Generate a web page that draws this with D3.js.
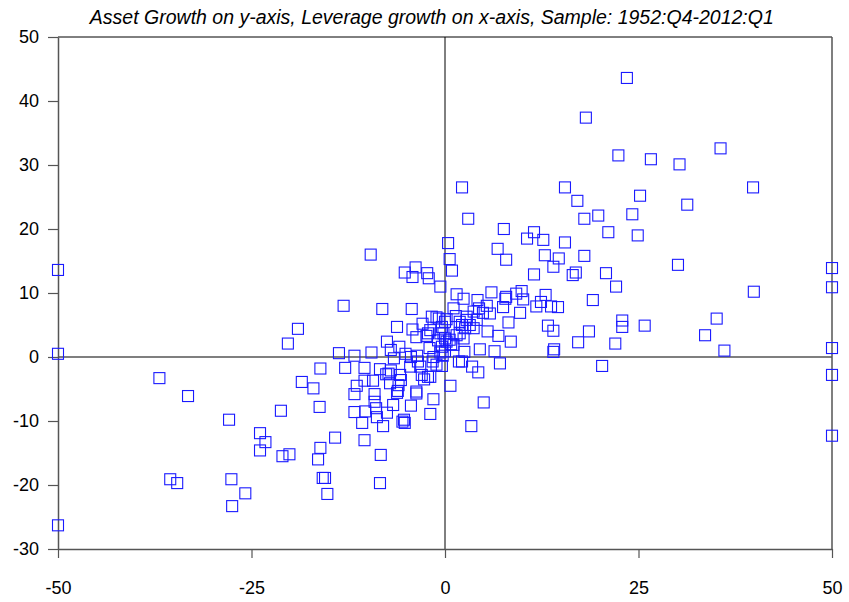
<!DOCTYPE html>
<meta charset="utf-8">
<script src="https://d3js.org/d3.v7.min.js"></script>
<style>
  body { margin: 0; background: #fff; }
  text { font-family: "Liberation Sans", Arial, sans-serif; }
</style>
<div id="chart"></div>
<script>

// chart text and ticks
var title = "Asset Growth on y-axis, Leverage growth on x-axis, Sample: 1952:Q4-2012:Q1";
var xTicks = [-50, -25, 0, 25, 50];
var yTicks = [-30, -20, -10, 0, 10, 20, 30, 40, 50];

// leverage growth (x) and asset growth (y)
var leverageGrowth = [
  -50, -50, -50, 50, 50, 50, 50, 50,
  -36.9, -33.2, -27.9, -19.0, -20.3, -18.5, -17.0, -21.2, -23.9, -23.2, -23.9, -21.0,
  -20.1, -35.5, -34.6, -27.6, -25.8, -27.5, -13.7, -16.1, -16.2, -16.1, -16.4, -14.2,
  -15.8, -15.5, -15.2,
  0.4, -9.6, 0.6, 0.9, -5.2, -3.8, -4.2, -2.3, -2.1, -0.6, 6.8, 1.5, 2.4, 6.0, 4.2,
  -13.1, -8.1, -4.3, -6.2, -4.2, -2.9, -1.7, -1.1, -2.2, -3.7, -0.6, -7.5, -5.9, -7.0,
  -11.7, -9.5, -6.6, -5.1, -4.4, -3.6, -2.0, -1.5, -0.4, -0.6, -0.3, 0.2, 0.8, 1.5,
  2.5, 4.5, 6.4, 1.8, 3.5, 4.3, 7.1, 5.0, 0.7, -1.5, -0.4,
  -12.9, -10.4, -8.4, -7.0, -5.8, -4.5, -3.5, -3.0, -2.7, -2.2, -1.6, -11.4, -10.4,
  -9.3, -7.6, -7.1, -6.0, -6.2, -3.7, -11.7, -9.1, -8.9, -6.7, -4.4, -1.9, -11.7,
  -10.3, -8.8, -7.5, -5.3, -9.1, -10.7, -8.0, -5.5, -5.2, -10.4, -8.3, -8.4, -7.3,
  -5.7, -6.1, -3.7, -1.9, -3.2, -1.1, -2.4, -1.9, -0.8, 0.0, -0.9,
  7.9, 12.9, 14.0, 11.5, 7.8, 9.2, 10.1, 9.9, 13.0, 12.4, 13.7, 14.6, 1.1, 0.2, 1.4,
  2.8, 3.7, 4.4, 5.4, 5.8, 4.9, 7.5, 9.7, 8.2, 5.5, 6.9, 8.5, 13.3, 14.0, 1.9, 2.2,
  2.6, 3.2, 3.7, 1.9, 0.6, 2.4, 0.0, -0.4, -0.2, 0.0, 1.1, 2.8, 4.1, 14.0, 2.2, 3.4,
  11.8, 7.9,
  2.2, 15.5, 17.1, 3.0, 18.0, 7.6, 10.6, 11.5, 12.7, 15.5, 14.7, 18.0, 22.4, 19.8,
  21.1, 16.9, 16.5, 20.8, 22.1, 19.1, 18.6, 17.2, 22.0, 22.9, 22.9, 14.1,
  23.5, 18.2, 35.6, 26.6, 30.3, 39.8, 25.2, 31.3, 24.2, 24.9, 30.1, 39.9, 25.8, 35.1,
  33.6, 36.1, 20.3
];
var assetGrowth = [
  13.6, 0.5, -26.3, 13.9, 10.9, 1.4, -2.8, -12.3,
  -3.3, -6.1, -9.8, 4.4, 2.1, -3.9, -4.9, -8.4, -11.9, -13.3, -14.6, -15.5,
  -15.2, -19.1, -19.7, -19.1, -21.3, -23.3, 0.6, -1.8, -7.8, -14.2, -16.0, -12.6,
  -18.9, -18.9, -21.4,
  17.8, 16.0, 15.3, 13.5, 13.2, 14.0, 12.5, 13.1, 12.3, 11.0, 16.9, 9.8, 9.1, 10.1, 8.9,
  8.0, 7.5, 7.5, 4.7, 4.3, 5.2, 6.3, 6.2, 3.7, 3.1, 3.7, 2.4, 1.6, 1.1,
  0.2, 0.7, -0.2, 0.5, 0.0, 0.2, 1.4, 0.0, 1.6, 0.7, 0.2, 2.4, 2.0, 3.4,
  0.8, 1.2, 0.9, -0.7, -1.5, -2.4, -1.0, -7.1, -4.5, -6.6, -1.4,
  -1.7, -1.7, -1.9, -2.1, -2.8, -1.5, -0.7, -2.8, -3.5, -3.1, -0.7, -4.5, -3.7,
  -3.7, -2.7, -4.1, -4.4, -5.6, -5.7, -5.8, -5.8, -8.0, -7.5, -7.6, -8.9, -8.6,
  -8.5, -9.4, -8.7, -9.8, -7.0, -10.3, -10.8, -10.1, -10.3, -13.0, -15.3, -19.7, -2.6,
  -3.6, -5.3, -5.4, -3.1, -1.5, -1.2, 3.3, 4.2, 6.0, 0.9, 2.6,
  15.2, 15.9, 14.1, 12.9, 9.1, 9.9, 9.0, 10.3, 9.7, 8.6, 7.9, 7.8, 7.6, 5.9, 6.4,
  6.3, 7.1, 7.6, 8.0, 6.8, 6.9, 7.8, 6.9, 5.4, 4.0, 3.3, 2.4, 4.9, 4.1, 5.5, 5.0,
  4.5, 5.0, 4.5, 3.7, 2.7, 2.9, 5.5, 4.7, 3.7, 2.9, 1.9, 5.8, 5.8, 0.8, -0.7, -10.8,
  7.9, 9.4,
  26.5, 26.5, 24.4, 21.6, 21.6, 20.0, 18.5, 19.5, 18.3, 17.9, 15.4, 15.8, 31.5, 22.1,
  19.5, 13.2, 12.8, 13.1, 11.0, 8.9, 4.0, 2.3, 2.1, 5.7, 4.7, 1.2,
  43.6, 37.4, 32.6, 30.9, 30.1, 26.5, 25.2, 23.8, 22.3, 19.0, 14.4, 10.2, 4.9, 6.0,
  3.4, 1.0, -1.4
];

var points = leverageGrowth.map(function(d, i) { return [d, assetGrowth[i]]; });

var margin = {top: 37, right: 17, bottom: 53, left: 58},
    width = 849 - margin.left - margin.right,
    height = 602 - margin.top - margin.bottom;

var svg = d3.select("#chart")
  .append("svg")
    .attr("width", 849)
    .attr("height", 602)
  .append("g")
    .attr("transform", "translate(" + margin.left + "," + margin.top + ")");

var x = d3.scaleLinear().domain([-50, 50]).range([0, width]);
var y = d3.scaleLinear().domain([-30, 50]).range([height, 0]);

// plain hyphen for negatives, like the original
var fmt = function(d) { return String(d); };

// title
svg.append("text")
  .attr("x", x(-1.7))
  .attr("y", -13)
  .attr("text-anchor", "middle")
  .style("font-style", "italic")
  .style("font-size", "19.5px")
  .text(title);

// frame: top and right border
svg.append("line").attr("x1", 0).attr("x2", width).attr("y1", 0).attr("y2", 0)
  .attr("stroke", "#000").attr("stroke-width", 1);
svg.append("line").attr("x1", width).attr("x2", width).attr("y1", 0).attr("y2", height)
  .attr("stroke", "#555").attr("stroke-width", 1.5);

// zero lines
svg.append("line").attr("x1", x(0)).attr("x2", x(0)).attr("y1", 0).attr("y2", height)
  .attr("stroke", "#000").attr("stroke-width", 1);
svg.append("line").attr("x1", 0).attr("x2", width).attr("y1", y(0)).attr("y2", y(0))
  .attr("stroke", "#555").attr("stroke-width", 1.5);

// axes
var xAxis = svg.append("g")
  .attr("transform", "translate(0," + height + ")")
  .call(d3.axisBottom(x).tickValues(xTicks).tickFormat(fmt)
    .tickSizeInner(9).tickSizeOuter(0).tickPadding(23));
var yAxis = svg.append("g")
  .call(d3.axisLeft(y).tickValues(yTicks).tickFormat(fmt)
    .tickSizeInner(10).tickSizeOuter(0).tickPadding(9));

[xAxis, yAxis].forEach(function(g) {
  g.select(".domain").attr("stroke", "#555").attr("stroke-width", 1.5);
  g.selectAll(".tick line").attr("stroke", "#555").attr("stroke-width", 1.2);
  g.selectAll(".tick text")
    .attr("fill", "#000")
    .style("font-family", "'Liberation Sans', Arial, sans-serif")
    .style("font-size", "18px");
});

// markers
var s = 11;
svg.append("g")
  .selectAll("rect")
  .data(points)
  .enter().append("rect")
    .attr("x", function(d) { return x(d[0]) - s / 2; })
    .attr("y", function(d) { return y(d[1]) - s / 2; })
    .attr("width", s)
    .attr("height", s)
    .attr("fill", "none")
    .attr("stroke", "#1a1aff")
    .attr("stroke-width", 1.1);

</script>
